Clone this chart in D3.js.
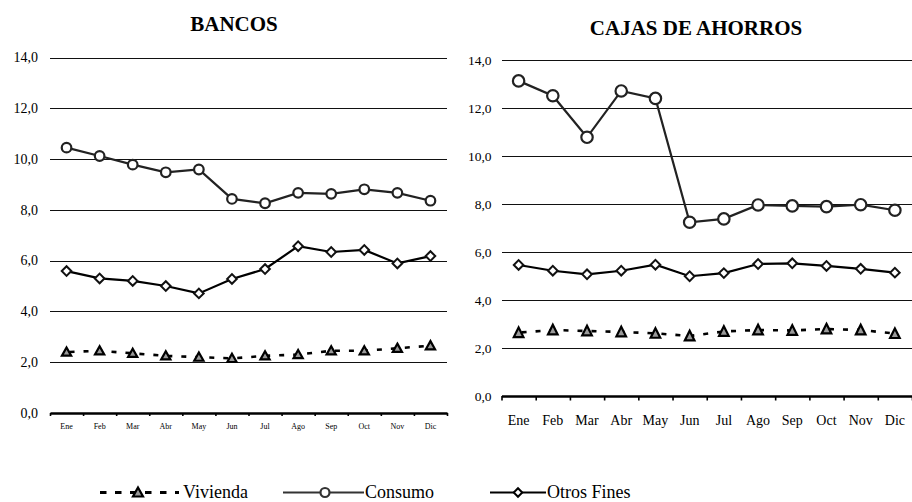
<!DOCTYPE html>
<html><head><meta charset="utf-8">
<script src="https://cdn.jsdelivr.net/npm/d3@7/dist/d3.min.js"></script>
<style>
html,body{margin:0;padding:0;background:#fff;}
svg{display:block;}
svg text{font-family:"Liberation Serif","Times New Roman",serif;}
</style></head>
<body><svg id="c" width="912" height="502"></svg>
<script>
const months = ["Ene","Feb","Mar","Abr","May","Jun","Jul","Ago","Sep","Oct","Nov","Dic"];
const yTicks = [0,2,4,6,8,10,12,14];
const seriesNames = ["Vivienda","Consumo","Otros Fines"];
const titles = ["BANCOS","CAJAS DE AHORROS"];

const bancosVivienda = [2.40,2.45,2.35,2.25,2.20,2.15,2.25,2.30,2.45,2.45,2.55,2.65];
const bancosConsumo  = [10.45,10.12,9.78,9.48,9.59,8.43,8.26,8.67,8.63,8.81,8.67,8.36];
const bancosOtros    = [5.59,5.30,5.20,5.00,4.71,5.28,5.67,6.57,6.34,6.42,5.89,6.18];

const cajasVivienda = [2.64,2.75,2.71,2.67,2.61,2.50,2.69,2.75,2.73,2.79,2.75,2.60];
const cajasConsumo  = [13.13,12.51,10.78,12.71,12.40,7.24,7.38,7.96,7.92,7.89,7.97,7.74];
const cajasOtros    = [5.46,5.22,5.07,5.22,5.47,4.99,5.12,5.50,5.53,5.42,5.30,5.14];

const SERIF = "'Liberation Serif','Times New Roman',serif";
const svg = d3.select("#c");
const fmt = d => d.toFixed(1).replace(".", ",");

const panels = [
  {title: titles[0], data: [bancosVivienda, bancosConsumo, bancosOtros],
   x0: 50, x1: 447, y0: 413, y1: 57.5, titleX: 234, titleY: 31, titleSize: 21,
   yLabelSize: 14, yLabelGap: 12, xLabelSize: 8, xLabelY: 428.5, r: 4.8, diaSide: 6.8,
   tri: [4.6, -4.6, 3.6], tickLen: 3},
  {title: titles[1], data: [cajasVivienda, cajasConsumo, cajasOtros],
   x0: 501.5, x1: 912, y0: 396, y1: 60, titleX: 696, titleY: 34.5, titleSize: 21,
   yLabelSize: 13.5, yLabelGap: 10, xLabelSize: 14, xLabelY: 424.5, r: 5.7, diaSide: 6.8,
   tri: [4.8, -5.2, 4.4], tickLen: 4.5}
];

panels.forEach(p => {
  const g = svg.append("g");
  const x = d3.scaleBand().domain(months).range([p.x0, p.x1]).padding(0);
  const xl = d3.scaleLinear().domain([0, 12]).range([p.x0, p.x1]);
  const y = d3.scaleLinear().domain([0, 14]).range([p.y0, p.y1]);
  const cx = m => x(m) + x.bandwidth() / 2;

  g.append("text").attr("x", p.titleX).attr("y", p.titleY)
    .attr("text-anchor", "middle").attr("font-weight", "bold")
    .style("font-family", SERIF).attr("font-size", p.titleSize).text(p.title);

  // gridlines
  const grid = g.append("g").attr("transform", `translate(${p.x0},0)`)
    .call(d3.axisLeft(y).tickValues(yTicks.filter(v => v > 0)).tickSize(-(p.x1 - p.x0)).tickFormat(""));
  grid.select(".domain").remove();
  grid.selectAll("line").attr("stroke", "#111").attr("stroke-width", 1).attr("shape-rendering", "crispEdges");

  // y labels
  const yl = g.append("g").attr("transform", `translate(${p.x0 - p.yLabelGap},0)`)
    .call(d3.axisLeft(y).tickValues(yTicks).tickSize(0).tickFormat(fmt));
  yl.select(".domain").remove();
  yl.attr("font-family", null);
  yl.selectAll("text").attr("font-size", p.yLabelSize).style("font-family", SERIF)
    .attr("fill", "#000").attr("x", 0).attr("dy", "0.3em");

  // x axis with ticks at band boundaries
  const xa = g.append("g").attr("transform", `translate(0,${p.y0})`)
    .call(d3.axisBottom(xl).tickValues(d3.range(13)).tickSizeInner(p.tickLen).tickSizeOuter(0).tickFormat(""));
  xa.select(".domain").attr("stroke", "#000").attr("stroke-width", 2.4);
  xa.selectAll("line").attr("stroke", "#000").attr("stroke-width", 1.6);

  const xb = g.append("g").attr("transform", `translate(0,${p.xLabelY})`)
    .call(d3.axisBottom(x).tickSize(0).tickPadding(0));
  xb.select(".domain").remove();
  xb.attr("font-family", null);
  xb.selectAll("text").attr("font-size", p.xLabelSize).style("font-family", SERIF)
    .attr("fill", "#000").attr("dy", 0).attr("y", 0);

  const line = d3.line().x((d, i) => cx(months[i])).y(d => y(d));
  const [viv, con, otr] = p.data;

  g.append("path").datum(otr).attr("d", line).attr("fill", "none").attr("stroke", "#000").attr("stroke-width", 2.2);
  g.append("path").datum(con).attr("d", line).attr("fill", "none").attr("stroke", "#222").attr("stroke-width", 2.2);
  g.append("path").datum(viv).attr("d", line).attr("fill", "none").attr("stroke", "#000")
    .attr("stroke-width", 2.6).attr("stroke-dasharray", "5,9").attr("stroke-dashoffset", -3);

  g.selectAll(".dia").data(otr).enter().append("path")
    .attr("d", d3.symbol().type(d3.symbolSquare).size(p.diaSide * p.diaSide))
    .attr("transform", (d, i) => `translate(${cx(months[i])},${y(d)}) rotate(45)`)
    .attr("fill", "#fff").attr("stroke", "#111").attr("stroke-width", 2);

  g.selectAll(".cir").data(con).enter().append("circle")
    .attr("cx", (d, i) => cx(months[i])).attr("cy", d => y(d)).attr("r", p.r)
    .attr("fill", "#fff").attr("stroke", "#222").attr("stroke-width", 2.2);

  const [hw, top, bot] = p.tri;
  g.selectAll(".tri").data(viv).enter().append("path")
    .attr("d", `M0,${top} L${hw},${bot} L${-hw},${bot} Z`)
    .attr("transform", (d, i) => `translate(${cx(months[i])},${y(d)})`)
    .attr("fill", "#9a9a9a").attr("stroke", "#000").attr("stroke-width", 2.2).attr("stroke-linejoin", "miter");
});

// legend
const lg = svg.append("g");
const ly = 492.5;
const legendItems = [
  {name: seriesNames[0], lx0: 100, lx1: 179, mx: 138, tx: 183, dash: "6.5,8.5", sw: 3, marker: "tri"},
  {name: seriesNames[1], lx0: 283, lx1: 364, mx: 325, tx: 365, dash: null, sw: 2, marker: "cir"},
  {name: seriesNames[2], lx0: 490, lx1: 546, mx: 518, tx: 547, dash: null, sw: 2.2, marker: "dia"}
];
legendItems.forEach(it => {
  const l = lg.append("line").attr("x1", it.lx0).attr("x2", it.lx1).attr("y1", ly).attr("y2", ly)
    .attr("stroke", it.marker === "cir" ? "#333" : "#000").attr("stroke-width", it.sw);
  if (it.dash) l.attr("stroke-dasharray", it.dash);
  if (it.marker === "tri") {
    lg.append("path").attr("d", "M0,-5 L5,4 L-5,4 Z").attr("transform", `translate(${it.mx},${ly})`)
      .attr("fill", "#9a9a9a").attr("stroke", "#000").attr("stroke-width", 2.2);
  } else if (it.marker === "cir") {
    lg.append("circle").attr("cx", it.mx).attr("cy", ly).attr("r", 4.5).attr("fill", "#fff")
      .attr("stroke", "#333").attr("stroke-width", 2.2);
  } else {
    lg.append("path").attr("d", d3.symbol().type(d3.symbolSquare).size(36))
      .attr("transform", `translate(${it.mx},${ly}) rotate(45)`)
      .attr("fill", "#fff").attr("stroke", "#000").attr("stroke-width", 2);
  }
  lg.append("text").attr("x", it.tx).attr("y", ly + 5.5).attr("font-size", 18)
    .style("font-family", SERIF).text(it.name);
});
</script>
</body></html>
